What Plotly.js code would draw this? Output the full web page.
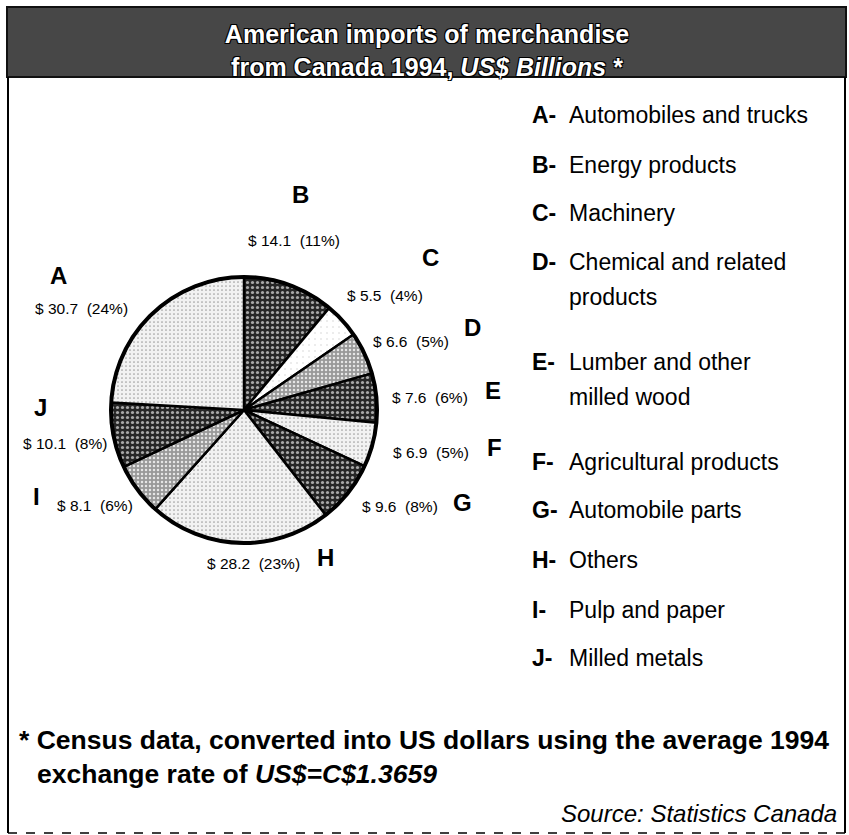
<!DOCTYPE html>
<html>
<head>
<meta charset="utf-8">
<script src="https://cdn.plot.ly/plotly-3.0.1.min.js"></script>
<style>
html,body{margin:0;padding:0;background:#fff;}
#chart{width:849px;height:835px;}
</style>
</head>
<body>
<div id="chart"></div>
<script>
// ---- data (pie drawn clockwise from 12 o'clock: B, C, D, ..., J, A) ----
const letters = ["B", "C", "D", "E", "F", "G", "H", "I", "J", "A"];
const categories = ["Energy products", "Machinery", "Chemical and related products",
  "Lumber and other milled wood", "Agricultural products", "Automobile parts",
  "Others", "Pulp and paper", "Milled metals", "Automobiles and trucks"];
const values = [14.1, 5.5, 6.6, 7.6, 6.9, 9.6, 28.2, 8.1, 10.1, 30.7];
const percents = [11, 4, 5, 6, 5, 8, 23, 6, 8, 24];

// legend list (right side), in printed order
const legendLetters = ["A", "B", "C", "D", "E", "F", "G", "H", "I", "J"];
const legendLines = [["Automobiles and trucks"], ["Energy products"], ["Machinery"],
  ["Chemical and related", "products"], ["Lumber and other", "milled wood"],
  ["Agricultural products"], ["Automobile parts"], ["Others"], ["Pulp and paper"], ["Milled metals"]];

// ---- styling / layout ----
const W = 849, H = 835;
const px = x => x / W;
const py = y => 1 - y / H;

const shadeOf = {B: "dark", C: "white", D: "mid", E: "dark", F: "light", G: "dark", H: "light", I: "mid", J: "dark", A: "light"};
const shades = {
  dark:  {bg: "#262626", fg: "#a8a8a8", size: 5, sol: 0.33},
  mid:   {bg: "#999999", fg: "#e6e6e6", size: 4, sol: 0.3},
  light: {bg: "#f2f2f2", fg: "#a0a0a0", size: 4, sol: 0.15},
  white: {bg: "#ffffff", fg: "#d0d0d0", size: 6, sol: 0.05}
};
const sh = letters.map(l => shades[shadeOf[l]]);

// label placement (text centres, px) per letter
const letterPos = {A: [58, 275], B: [300, 195], C: [430, 258], D: [473, 328], E: [493, 390],
  F: [494, 447], G: [462, 502], H: [325, 557], I: [36, 497], J: [40, 407]};
const valuePos = {A: [81, 308], B: [294, 240], C: [385, 295], D: [411, 341], E: [430, 397],
  F: [431, 452], G: [400, 507], H: [253, 563], I: [95, 505], J: [65, 443]};
const legendY = [[115], [165], [213], [262, 297], [362, 397], [462], [510], [560], [610], [658]];

const FONT = "Liberation Sans, Arial, Helvetica, sans-serif";
const pieDomain = {x: [px(111), px(377)], y: [py(543), py(277)]};

const trace = {
  type: "pie",
  values: values,
  labels: letters,
  customdata: categories,
  sort: false,
  direction: "clockwise",
  rotation: 0,
  textinfo: "none",
  hoverinfo: "label+value",
  showlegend: false,
  domain: pieDomain,
  marker: {
    colors: sh.map(s => s.bg),
    line: {color: "#000", width: 2.5},
    pattern: {
      shape: ".",
      bgcolor: sh.map(s => s.bg),
      fgcolor: sh.map(s => s.fg),
      size: sh.map(s => s.size),
      solidity: sh.map(s => s.sol),
      fillmode: "replace"
    }
  }
};
// heavier outer rim: one transparent slice holding the total
const rim = {
  type: "pie",
  values: [values.reduce((a, b) => a + b, 0)],
  labels: ["total"],
  sort: false,
  textinfo: "none",
  hoverinfo: "skip",
  showlegend: false,
  domain: pieDomain,
  marker: {colors: ["rgba(0,0,0,0)"], line: {color: "#000", width: 4}}
};

const annotations = [];
letters.forEach((l, i) => {
  annotations.push({xref: "paper", yref: "paper", x: px(letterPos[l][0]), y: py(letterPos[l][1]),
    xanchor: "center", yanchor: "middle", showarrow: false,
    text: "<b>" + l + "</b>", font: {family: FONT, size: 24, color: "#000"}});
  annotations.push({xref: "paper", yref: "paper", x: px(valuePos[l][0]), y: py(valuePos[l][1]),
    xanchor: "center", yanchor: "middle", showarrow: false,
    text: "$ " + values[i].toFixed(1) + "&nbsp;&nbsp;(" + percents[i] + "%)",
    font: {family: FONT, size: 15.5, color: "#000"}});
});
legendLetters.forEach((l, i) => {
  annotations.push({xref: "paper", yref: "paper", x: px(530), y: py(legendY[i][0]),
    xanchor: "left", yanchor: "middle", showarrow: false,
    text: "<b>" + l + "-</b>", font: {family: FONT, size: 23, color: "#000"}});
  legendLines[i].forEach((t, j) => {
    annotations.push({xref: "paper", yref: "paper", x: px(567), y: py(legendY[i][j]),
      xanchor: "left", yanchor: "middle", showarrow: false,
      text: t, font: {family: FONT, size: 23, color: "#000"}});
  });
});
// footnote & source
annotations.push({xref: "paper", yref: "paper", x: px(17), y: py(740), xanchor: "left", yanchor: "middle",
  showarrow: false, text: "<b>* Census data, converted into US dollars using the average 1994</b>",
  font: {family: FONT, size: 26.5, color: "#000"}});
annotations.push({xref: "paper", yref: "paper", x: px(35), y: py(774), xanchor: "left", yanchor: "middle",
  showarrow: false, text: "<b>exchange rate of <i>US$=C$1.3659</i></b>",
  font: {family: FONT, size: 26.5, color: "#000"}});
annotations.push({xref: "paper", yref: "paper", x: px(839), y: py(813), xanchor: "right", yanchor: "middle",
  showarrow: false, text: "<i>Source: Statistics Canada</i>",
  font: {family: FONT, size: 24, color: "#000"}});

const shapes = [
  {type: "rect", xref: "paper", yref: "paper", x0: px(7), x1: px(846), y0: py(77), y1: py(7),
    fillcolor: "#474747", line: {color: "#111", width: 2}, layer: "below"},
  {type: "line", xref: "paper", yref: "paper", x0: px(8), x1: px(8), y0: py(77), y1: py(833),
    line: {color: "#000", width: 2}},
  {type: "line", xref: "paper", yref: "paper", x0: px(845), x1: px(845), y0: py(77), y1: py(833),
    line: {color: "#000", width: 2}},
  {type: "line", xref: "paper", yref: "paper", x0: px(8), x1: px(845), y0: py(833), y1: py(833),
    line: {color: "#000", width: 1.5, dash: "dash"}}
];

const layout = {
  width: W, height: H,
  margin: {l: 0, r: 0, t: 0, b: 0},
  paper_bgcolor: "#fff",
  plot_bgcolor: "#fff",
  title: {
    text: "<b>American imports of merchandise<br>from Canada 1994, <i>US$ Billions</i> *</b>",
    x: px(427), xanchor: "center", xref: "paper",
    y: py(43), yanchor: "middle", yref: "paper",
    font: {family: FONT, size: 25, color: "#fff",
      shadow: "-1px -1px 0 #000, 1px -1px 0 #000, -1px 1px 0 #000, 1px 1px 0 #000"}
  },
  shapes: shapes,
  annotations: annotations
};

Plotly.newPlot("chart", [trace, rim], layout, {displayModeBar: false, staticPlot: true});
</script>
</body>
</html>
